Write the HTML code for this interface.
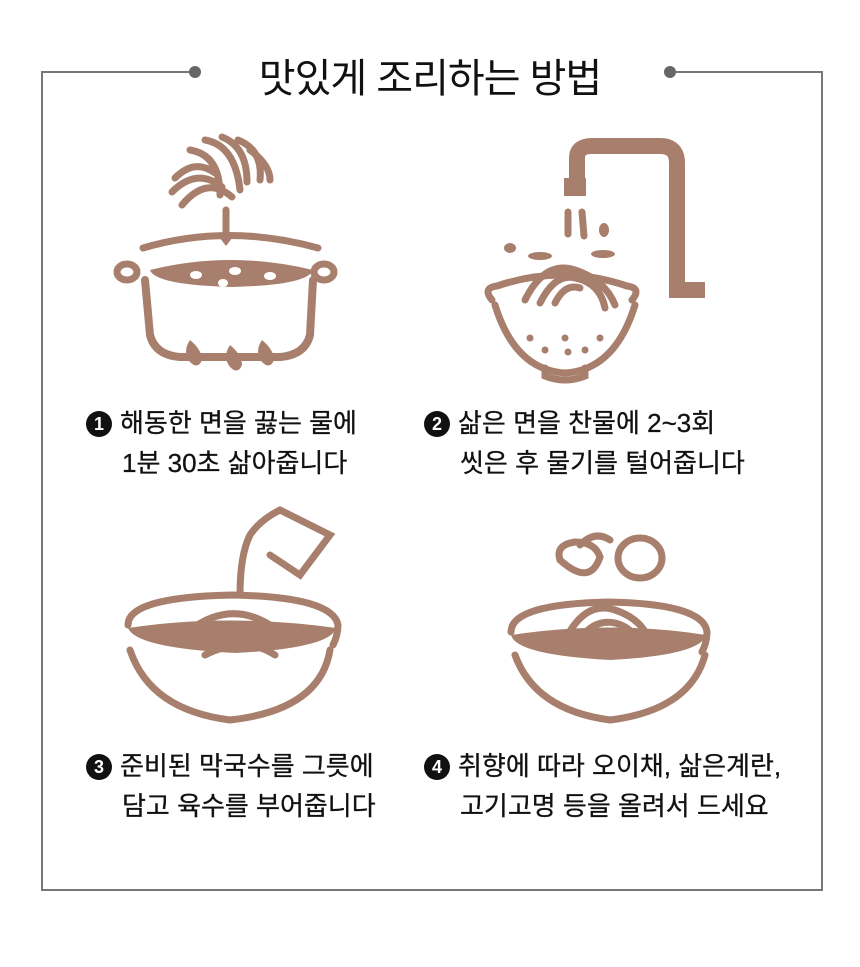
<!DOCTYPE html>
<html><head><meta charset="utf-8"><style>
body{margin:0;background:#fff;width:860px;height:967px;position:relative;overflow:hidden;font-family:"Liberation Sans","Noto Sans CJK KR",sans-serif;}
.t{position:absolute;font-size:26px;color:#111;line-height:40px;white-space:nowrap;letter-spacing:0px;-webkit-text-stroke:0.3px #111}
.n{display:inline-block;width:26px;height:26px;border-radius:50%;background:#111;color:#fff;font-size:18px;font-weight:bold;text-align:center;line-height:26px;vertical-align:2px;margin-right:8px;letter-spacing:0;-webkit-text-stroke:0}
</style></head><body>
<svg width="860" height="967" style="position:absolute;left:0;top:0">
<g stroke="#777" stroke-width="2" fill="none">
<polyline points="195,72 42,72 42,890 822,890 822,72 670,72"/>
</g>
<circle cx="195" cy="72" r="6" fill="#666"/><circle cx="670" cy="72" r="6" fill="#666"/>
<g fill="none" stroke="#a87f6c" stroke-width="7" stroke-linecap="round">
<path d="M175,178 q20,-20 40,-5 M172,192 q25,-25 50,-5 M182,205 q25,-30 50,-8 M190,150 q30,5 30,45 M205,140 q30,5 35,50 M222,137 q25,10 25,45 M238,140 q25,10 22,40 M250,150 q20,15 20,30"/>
<line x1="226" y1="210" x2="226" y2="238"/>
<path d="M143,248 q85,-25 175,0" />
<path d="M145,280 L150,335 q5,20 30,22 L280,357 q25,-2 30,-22 L313,280" stroke-width="8"/>
<ellipse cx="127" cy="272" rx="10" ry="8"/><ellipse cx="324" cy="272" rx="10" ry="8"/>
<path d="M577,180 L577,158 q0,-12 15,-12 L660,146 q17,0 17,17 L677,290 L705,290" stroke-width="16" stroke-linecap="butt"/>
<path d="M568,212 l0,22 M582,212 l2,24"/>
<path d="M492,300 q-10,-12 5,-14 q65,-22 130,0 q15,2 5,14"/>
<path d="M495,305 q20,65 70,68 q50,-3 70,-68"/>
<path d="M525,300 q20,-40 50,-30 q30,10 40,35 M540,303 q15,-30 35,-25 q25,5 30,30 M555,303 q10,-20 25,-15"/>
<path d="M545,368 l0,8 q20,8 40,0 l0,-8"/>
<path d="M128,625 q0,-28 105,-30 q100,2 105,30 q0,10 -5,20"/>
<path d="M130,650 q20,60 100,70 q90,-10 100,-70"/>
<path d="M240,595 q0,-40 10,-60 q10,-15 30,-25 l50,25 -30,40 -30,-20" />
<path d="M190,630 q40,-30 80,-5 M195,645 q40,-30 90,-5 M205,655 q40,-20 70,0"/>
<path d="M511,632 q0,-28 98,-30 q95,2 98,30 q0,10 -5,20"/>
<path d="M515,655 q20,55 95,65 q80,-10 95,-65"/>
<path d="M565,640 q20,-40 50,-30 q30,10 35,35 M575,648 q15,-30 40,-25 q20,5 25,25"/>
<path d="M560,560 q-5,-15 15,-18 q20,0 25,15 q-10,30 -40,3 M580,545 q15,-15 30,-5"/>
<ellipse cx="640" cy="558" rx="22" ry="20"/>
</g>
<g fill="#a87f6c">
<rect x="564" y="178" width="22" height="18"/>
<path d="M216,233 l20,0 -10,13z"/>
<path d="M150,270 q80,-20 163,0 q-5,15 -80,17 q-78,-2 -83,-17z"/>
<path d="M190,340 q-8,12 0,22 q8,8 12,-2 q0,-10 -12,-20z M230,345 q-8,12 0,22 q8,8 12,-2 q0,-10 -12,-20z M262,340 q-8,12 0,22 q8,8 12,-2 q0,-10 -12,-20z"/>
<ellipse cx="510" cy="248" rx="6" ry="5"/><ellipse cx="540" cy="256" rx="12" ry="4"/><ellipse cx="603" cy="254" rx="12" ry="4"/><ellipse cx="604" cy="230" rx="5" ry="7"/>
<path d="M128,628 q100,-15 208,0 q-5,20 -100,25 q-100,-5 -108,-25z"/>
<path d="M511,635 q100,-15 195,0 q-5,20 -95,25 q-95,-5 -100,-25z"/>
</g>
<g fill="#fff">
<ellipse cx="196" cy="275" rx="6" ry="4"/><ellipse cx="235" cy="271" rx="6" ry="4"/><ellipse cx="223" cy="283" rx="5" ry="4"/><ellipse cx="270" cy="276" rx="6" ry="4"/>
</g>
<g fill="#a87f6c"><circle cx="530" cy="338" r="3.5"/><circle cx="545" cy="350" r="3.5"/><circle cx="568" cy="352" r="3.5"/><circle cx="600" cy="338" r="3.5"/><circle cx="585" cy="350" r="3.5"/><circle cx="565" cy="338" r="3.5"/></g>
</svg>
<div style="position:absolute;left:0;width:860px;top:46px;text-align:center;font-size:40px;color:#111;letter-spacing:-1px">맛있게 조리하는 방법</div>
<div class="t" style="left:86px;top:403px"><span class="n">1</span>해동한 면을 끓는 물에<br><span style="padding-left:36px">1분 30초 삶아줍니다</span></div>
<div class="t" style="left:424px;top:403px"><span class="n">2</span>삶은 면을 찬물에 2~3회<br><span style="padding-left:36px">씻은 후 물기를 털어줍니다</span></div>
<div class="t" style="left:86px;top:746px"><span class="n">3</span>준비된 막국수를 그릇에<br><span style="padding-left:36px">담고 육수를 부어줍니다</span></div>
<div class="t" style="left:424px;top:746px"><span class="n">4</span>취향에 따라 오이채, 삶은계란,<br><span style="padding-left:36px">고기고명 등을 올려서 드세요</span></div>
</body></html>
